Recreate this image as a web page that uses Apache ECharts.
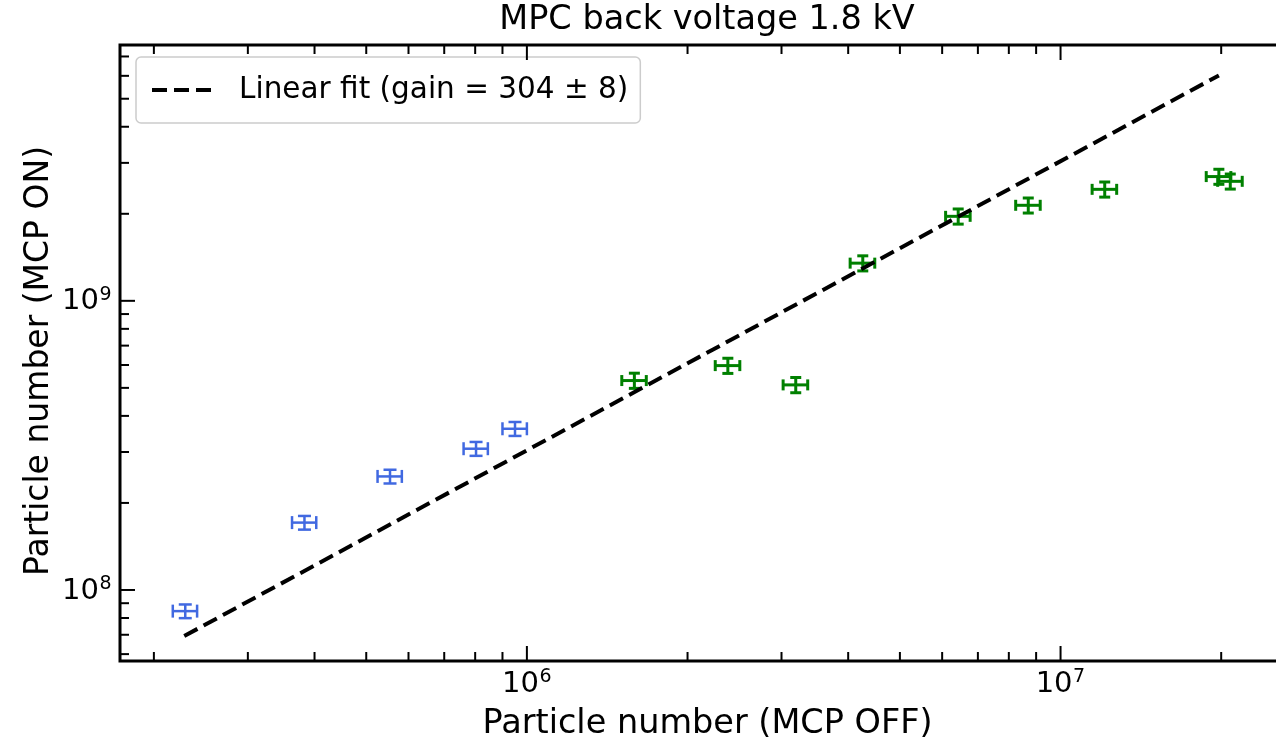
<!DOCTYPE html>
<html><head><meta charset="utf-8">
<script src="https://cdn.jsdelivr.net/npm/echarts@6/dist/echarts.min.js"></script>
<style>html,body{margin:0;padding:0;background:#fff;overflow:hidden;width:1276px;height:746px}#c{width:1310px;height:746px}</style>
</head><body><div id="c"></div>
<script>
const FONT = 'DejaVu Sans';
const titleText = 'MPC back voltage 1.8 kV';
const xName = 'Particle number (MCP OFF)';
const yName = 'Particle number (MCP ON)';
const fitName = 'Linear fit (gain = 304 ± 8)';

const blueX = [2.29e5, 3.83e5, 5.54e5, 8.03e5, 9.50e5];
const blueY = [8.45e7, 1.71e8, 2.47e8, 3.08e8, 3.61e8];
const blueXErr = [1.2e4, 2.0e4, 2.9e4, 4.2e4, 5.0e4];
const blueYErr = [4.6e6, 9.3e6, 1.35e7, 1.7e7, 2.0e7];

const greenX = [1.59e6, 2.38e6, 3.19e6, 4.26e6, 6.43e6, 8.70e6, 1.21e7, 1.98e7, 2.08e7];
const greenY = [5.30e8, 5.97e8, 5.12e8, 1.35e9, 1.96e9, 2.14e9, 2.43e9, 2.69e9, 2.59e9];
const greenXErr = [8.4e4, 1.26e5, 1.69e5, 2.26e5, 3.4e5, 4.6e5, 6.4e5, 1.05e6, 1.1e6];
const greenYErr = [3.2e7, 3.6e7, 3.1e7, 8.1e7, 1.18e8, 1.28e8, 1.46e8, 1.61e8, 1.55e8];

const fitX = [2.28e5, 1.98e7];
const fitY = [6.93e7, 6.02e9];

const xRange = [1.728e5, 2.75e7];
const yRange = [5.68e7, 7.67e9];

const xMajorTicks = [1e6, 1e7];
const xMajorExp = ['6', '7'];
const xMinorTicks = [2e5,3e5,4e5,5e5,6e5,7e5,8e5,9e5,2e6,3e6,4e6,5e6,6e6,7e6,8e6,9e6,2e7];
const yMajorTicks = [1e8, 1e9];
const yMajorExp = ['8', '9'];
const yMinorTicks = [6e7,7e7,8e7,9e7,2e8,3e8,4e8,5e8,6e8,7e8,8e8,9e8,2e9,3e9,4e9,5e9,6e9,7e9];

const xTickList = xMajorTicks.map((v, i) => ({v: v, major: true, exp: xMajorExp[i]}))
  .concat(xMinorTicks.map(v => ({v: v, major: false, exp: ''})));
const yTickList = yMajorTicks.map((v, i) => ({v: v, major: true, exp: yMajorExp[i]}))
  .concat(yMinorTicks.map(v => ({v: v, major: false, exp: ''})));

const MAJ = 15, MIN = 9, TW = 2, TICKFS = 29, SUPFS = 19;

function txt(x, y, text, fs, align) {
  return {type: 'text', x: x, y: y, style: {text: text, fontSize: fs, fontFamily: FONT, fill: '#000', align: align, verticalAlign: 'middle'}};
}
function ln(x1, y1, x2, y2, color, w) {
  return {type: 'line', shape: {x1: x1, y1: y1, x2: x2, y2: y2}, style: {stroke: color, lineWidth: w}};
}

function xTickRender(params, api) {
  const cs = params.coordSys;
  const t = xTickList[params.dataIndex];
  const px = api.coord([t.v, yRange[0]])[0];
  const len = t.major ? MAJ : MIN;
  const bottom = cs.y + cs.height, top = cs.y;
  const ch = [ln(px, bottom, px, bottom - len, '#000', TW), ln(px, top, px, top + len, '#000', TW)];
  if (t.major) {
    ch.push(txt(px + 12, bottom + 23, '10', TICKFS, 'right'));
    ch.push(txt(px + 12.5, bottom + 16, t.exp, SUPFS, 'left'));
  }
  return {type: 'group', children: ch};
}
function yTickRender(params, api) {
  const cs = params.coordSys;
  const t = yTickList[params.dataIndex];
  const py = api.coord([xRange[0], t.v])[1];
  const len = t.major ? MAJ : MIN;
  const left = cs.x, right = cs.x + cs.width;
  const ch = [ln(left, py, left + len, py, '#000', TW), ln(right, py, right - len, py, '#000', TW)];
  if (t.major) {
    ch.push(txt(left - 21, py + 1, '10', TICKFS, 'right'));
    ch.push(txt(left - 20.5, py - 6, t.exp, SUPFS, 'left'));
  }
  return {type: 'group', children: ch};
}

function errRender(color, lw, cap) {
  return function (params, api) {
    const x = api.value(0), y = api.value(1), ex = api.value(2), ey = api.value(3);
    const l = api.coord([x - ex, y]), r = api.coord([x + ex, y]);
    const t = api.coord([x, y + ey]), b = api.coord([x, y - ey]);
    return {type: 'group', children: [
      ln(l[0], l[1], r[0], r[1], color, lw),
      ln(t[0], t[1], b[0], b[1], color, lw),
      ln(l[0], l[1] - cap, l[0], l[1] + cap, color, lw),
      ln(r[0], r[1] - cap, r[0], r[1] + cap, color, lw),
      ln(t[0] - cap, t[1], t[0] + cap, t[1], color, lw),
      ln(b[0] - cap, b[1], b[0] + cap, b[1], color, lw)
    ]};
  };
}

const chart = echarts.init(document.getElementById('c'), null, {renderer: 'canvas'});
chart.setOption({
  animation: false,
  backgroundColor: '#fff',
  title: {
    text: titleText, left: 707, top: 3, textAlign: 'center', padding: 0,
    textStyle: {fontSize: 33.5, fontWeight: 'normal', fontFamily: FONT, color: '#000'}
  },
  legend: {
    data: [fitName], left: 136, top: 57, selectedMode: false,
    padding: [18, 12, 18, 14], itemWidth: 60, itemHeight: 14,
    itemStyle: {opacity: 0},
    lineStyle: {width: 4, color: '#000', type: [15, 7]},
    textStyle: {fontSize: 29.5, fontFamily: FONT, color: '#000', padding: [0, 0, 0, 22]},
    backgroundColor: '#fff', borderColor: '#cccccc', borderWidth: 1.5, borderRadius: 5
  },
  grid: {left: 120, top: 45, width: 1175, height: 618, show: true, borderColor: '#000', borderWidth: 3, backgroundColor: 'transparent'},
  xAxis: {
    type: 'log', logBase: 10, min: xRange[0], max: xRange[1],
    axisLine: {show: false}, axisTick: {show: false}, axisLabel: {show: false}, splitLine: {show: false},
    name: xName, nameLocation: 'middle', nameGap: 46,
    nameTextStyle: {fontSize: 33.5, fontFamily: FONT, color: '#000'}
  },
  yAxis: {
    type: 'log', logBase: 10, min: yRange[0], max: yRange[1],
    axisLine: {show: false}, axisTick: {show: false}, axisLabel: {show: false}, splitLine: {show: false},
    name: yName, nameLocation: 'middle', nameGap: 64,
    nameTextStyle: {fontSize: 33, fontFamily: FONT, color: '#000', padding: [0, 16, 0, 0]}
  },
  series: [
    {
      type: 'custom', name: 'blue', clip: false, z: 3,
      data: blueX.map((x, i) => [x, blueY[i], blueXErr[i], blueYErr[i]]),
      encode: {x: 0, y: 1}, renderItem: errRender('#4169e1', 2.5, 6.5)
    },
    {
      type: 'custom', name: 'green', clip: false, z: 3,
      data: greenX.map((x, i) => [x, greenY[i], greenXErr[i], greenYErr[i]]),
      encode: {x: 0, y: 1}, renderItem: errRender('#008000', 3, 5.5)
    },
    {
      type: 'line', name: fitName, z: 5,
      data: fitX.map((x, i) => [x, fitY[i]]),
      symbol: 'none', showSymbol: false,
      lineStyle: {color: '#000', width: 4, type: [15, 7]}
    },
    {
      type: 'custom', name: 'xticks', clip: false, z: 6, silent: true,
      data: xTickList.map(t => [t.v, yRange[0]]),
      encode: {x: 0, y: 1}, renderItem: xTickRender
    },
    {
      type: 'custom', name: 'yticks', clip: false, z: 6, silent: true,
      data: yTickList.map(t => [xRange[0], t.v]),
      encode: {x: 0, y: 1}, renderItem: yTickRender
    }
  ]
});
</script>
</body></html>
